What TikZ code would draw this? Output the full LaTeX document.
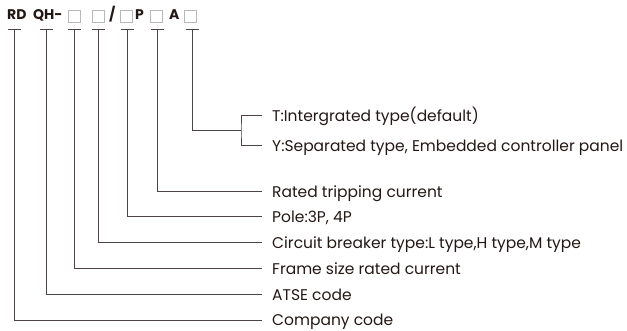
\documentclass[tikz,border=0pt]{standalone}
\usepackage{fontspec}
\setmainfont{Poppins}
\usepackage{tikz}
\definecolor{inkdark}{HTML}{231815}
\definecolor{leadgray}{HTML}{4D4346}
\definecolor{boxgray}{HTML}{B8B8B8}
\tikzset{
  code/.style={anchor=base west, inner sep=0pt, font=\fontsize{14}{15}\selectfont\bfseries, text=inkdark},
  slot/.style={draw=boxgray, line width=0.8pt, minimum size=12pt, inner sep=0pt},
  lead/.style={draw=leadgray, line width=1pt},
  lab/.style={anchor=west, inner xsep=10pt, inner ysep=0pt, text height=11pt, text depth=0pt,
    font=\fontsize{15.5}{17}\selectfont, text=inkdark}
}

\begin{document}
\begin{tikzpicture}[x=1pt, y=-1pt]
      \useasboundingbox (0,0) rectangle (627,331);
      % Code row
      \node[code] (rd) at (7,20) {RD};
      \node[code] (qh) at (33,20) {QH-};
      \node[slot] (b1) at (74,16) {};
      \node[slot] (b2) at (98,16) {};
      \node[code] (sl) at (109,20) {/};
      \node[slot] (b3) at (126.5,16) {};
      \node[code] (pp) at (135,20) {P};
      \node[slot] (b4) at (156,16) {};
      \node[code] (aa) at (169,20) {A};
      \node[slot] (b5) at (190.5,16) {};
      % T heads
      \coordinate (tRD) at (14,30);
      \coordinate (tQH) at (46,30);
      \coordinate (tB1) at (74,30);
      \coordinate (tB2) at (98,30);
      \coordinate (tB3) at (127,30);
      \coordinate (tB4) at (157,30);
      \coordinate (tB5) at (192,30);
      \foreach \t in {tRD,tQH,tB1,tB2,tB3,tB4,tB5}{
          \draw[lead] ([xshift=-6.5pt]\t) -- ([xshift=6.5pt]\t);
        }
      % Labels
      \node[lab] (intT) at (262,116) {T:Intergrated type(default)};
      \node[lab] (sepY) at (262,146) {Y:Separated type, Embedded controller panel};
      \node[lab] (rated) at (262,192) {Rated tripping current};
      \node[lab] (pole) at (262,217) {Pole:3P, 4P};
      \node[lab] (cbtype) at (262,243) {Circuit breaker type:L type,H type,M type};
      \node[lab] (frame) at (262,269) {Frame size rated current};
      \node[lab] (atse) at (262,295) {ATSE code};
      \node[lab] (company) at (262,320.5) {Company code};
      % Leaders
      \foreach \t/\l in {tRD/company,tQH/atse,tB1/frame,tB2/cbtype,tB3/pole,tB4/rated}{
          \draw[lead] (\t) |- (\l.west);
        }
      \coordinate (jn) at (241,131);
      \draw[lead] (tB5) |- (jn);
      \draw[lead] (intT.west) -| (jn) |- (sepY.west);
    \end{tikzpicture}
\end{document}
